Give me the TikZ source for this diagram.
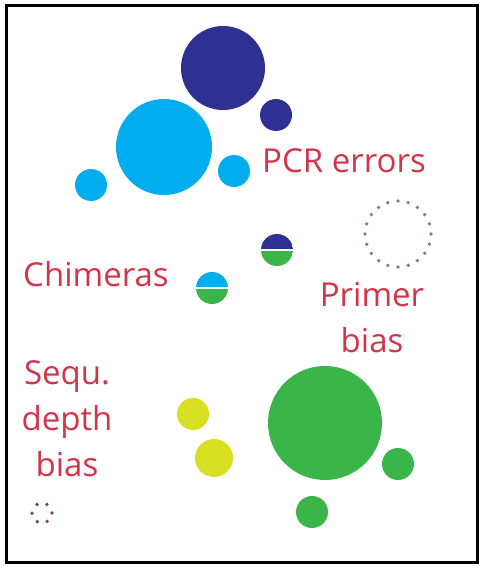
\documentclass[tikz,border=0pt]{standalone}
\usepackage{fontspec}
\setmainfont{Open Sans}
\usepackage{xcolor}
\usetikzlibrary{positioning}
\definecolor{cNavy}{HTML}{2E3192}
\definecolor{cCyan}{HTML}{00AEEF}
\definecolor{cGreen}{HTML}{39B54A}
\definecolor{cYellow}{HTML}{D7DF23}
\definecolor{cRed}{HTML}{D2344A}
\definecolor{cDotA}{HTML}{8C7B70}
\definecolor{cDotB}{HTML}{7B3F6A}
\tikzset{
  otu/.style={circle, inner sep=0pt, minimum size=#1},
  otuNavy/.style={otu=#1, fill=cNavy},
  otuCyan/.style={otu=#1, fill=cCyan},
  otuGreen/.style={otu=#1, fill=cGreen},
  otuYellow/.style={otu=#1, fill=cYellow},
  otuSplit/.style 2 args={otu=32pt,
    path picture={
      \fill[#1] (path picture bounding box.north west) rectangle (path picture bounding box.east);
      \fill[#2] (path picture bounding box.west) rectangle (path picture bounding box.south east);
      \draw[white, line width=1.3pt] (path picture bounding box.west) -- (path picture bounding box.east);}},
  otuGhost/.style={otu=#1, line width=3.8pt, line cap=round},
  lbl/.style={font=\fontsize{33}{46}\selectfont, text=cRed, inner sep=0pt, align=center}
}
\begin{document}
\begin{tikzpicture}[x=1pt,y=-1pt]
\useasboundingbox (0,0) rectangle (489,569);
\draw[line width=3pt] (6,6) rectangle (477,562);
% PCR errors
\node[otuNavy=84pt] (nvL) at (223,68) {};
\node[otuNavy=32pt] (nvS) at (276,115) {};
\node[otuCyan=96pt] (cyL) at (164,147) {};
\node[otuCyan=32pt] (cyA) at (234,171) {};
\node[otuCyan=32pt] (cyB) at (91,185) {};
\node[lbl, anchor=base west] (pcr) at (262,173) {PCR errors};
% chimeras
\node[otuSplit={cNavy}{cGreen}] (chA) at (277,250) {};
\node[otuSplit={cCyan}{cGreen}] (chB) at (212,288) {};
\node[lbl, anchor=base west] (chim) at (23,286) {Chimeras};
% primer bias
\node[otuGhost=66pt, draw=cDotA, dash pattern=on 0pt off 10.37pt] (prm) at (398,234) {};
\node[lbl, anchor=north] (prim) at (372,282) {Primer\\bias};
% sequencing depth
\node[lbl, anchor=north] (seq) at (67,360) {Sequ.\\depth\\bias};
\node[otuGhost=20pt, draw=cDotB, dash pattern=on 0pt off 10.47pt] (sqd) at (42,513) {};
\node[otuYellow=32pt] (ylA) at (193,414) {};
\node[otuYellow=38pt] (ylB) at (214,458) {};
\node[otuGreen=114pt] (grL) at (325,423) {};
\node[otuGreen=32pt] (grA) at (398,464) {};
\node[otuGreen=32pt] (grB) at (312,512) {};
\end{tikzpicture}
\end{document}
